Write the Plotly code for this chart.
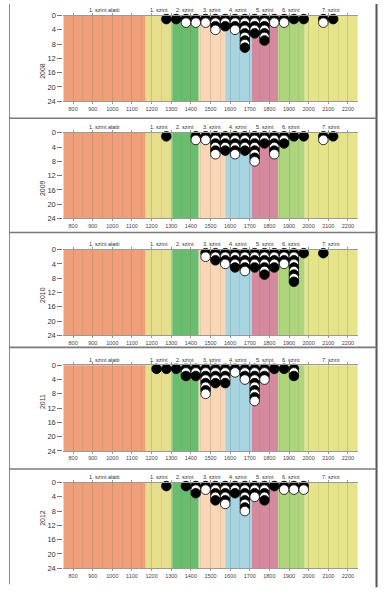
import plotly.graph_objects as go

# ---------------- data ----------------
years = ["2008", "2009", "2010", "2011", "2012"]
bins = [1225, 1275, 1325, 1375, 1425, 1475, 1525, 1575, 1625, 1675,
        1725, 1775, 1825, 1875, 1925, 1975, 2025, 2075, 2125]
counts_2008 = [0, 1, 1, 2, 2, 2, 4, 3, 4, 9, 5, 7, 2, 2, 1, 1, 0, 2, 1]
counts_2009 = [0, 1, 0, 0, 2, 2, 6, 5, 6, 5, 8, 3, 6, 3, 1, 1, 0, 2, 1]
counts_2010 = [0, 0, 0, 0, 0, 2, 3, 4, 5, 6, 5, 7, 5, 4, 9, 1, 0, 1, 0]
counts_2011 = [1, 1, 1, 3, 3, 8, 5, 5, 2, 4, 10, 4, 1, 1, 3, 0, 0, 0, 0]
counts_2012 = [0, 1, 0, 1, 3, 2, 5, 6, 3, 8, 4, 5, 1, 2, 2, 2, 0, 0, 0]
all_counts = [counts_2008, counts_2009, counts_2010, counts_2011, counts_2012]

level_names = ["1. szint alatti", "1. szint", "2. szint", "3. szint",
               "4. szint", "5. szint", "6. szint", "7. szint"]
level_edges = [750, 1170, 1305, 1440, 1575, 1710, 1845, 1980, 2250]
level_colors = ["#EFA07A", "#E6DE8C", "#6ABD6E", "#F9D6B5",
                "#A8D4E2", "#D4899C", "#AED57D", "#E6E48A"]

x_ticks = list(range(800, 2201, 100))
y_ticks = [0, 4, 8, 12, 16, 20, 24]

# ---------------- layout geometry (pixels) ----------------
W, H = 388, 608
plot_left, plot_right = 63.3, 357.7
plot_tops = [11.7, 130.7, 249.3, 366.7, 485.7]
plot_h = 87.0
separators = [116, 232, 348.5, 472]

FONT = "Liberation Sans, Arial, sans-serif"
GRID = "rgba(110,110,60,0.12)"
fig = go.Figure()
shapes = []
annotations = []

for i, (year, counts) in enumerate(zip(years, all_counts)):
    ax = "" if i == 0 else str(i + 1)
    xs, ys, cols = [], [], []
    for b, n in zip(bins, counts):
        for k in range(1, n + 1):
            xs.append(b)
            ys.append(k)
            cols.append("black" if k % 2 == 1 else "white")
    fig.add_trace(go.Scatter(
        x=xs, y=ys, mode="markers",
        marker=dict(size=9.6, color=cols, line=dict(color="black", width=0.8)),
        xaxis="x" + ax, yaxis="y" + ax, showlegend=False, hoverinfo="skip",
        cliponaxis=False,
    ))
    top = plot_tops[i]
    ydom = [1 - (top + plot_h) / H, 1 - top / H]
    fig.update_layout({
        f"xaxis{ax}": dict(
            domain=[plot_left / W, plot_right / W], range=[750, 2250],
            anchor="y" + ax, tickmode="array", tickvals=x_ticks,
            ticktext=[str(v) for v in x_ticks],
            tickfont=dict(size=5.5, color="#444", family=FONT),
            ticks="outside", ticklen=2, tickcolor="#999", tickwidth=0.5,
            showline=True, linecolor="#999", linewidth=0.6, mirror="ticks",
            showgrid=True, gridcolor=GRID, gridwidth=0.6,
            minor=dict(tick0=750, dtick=50, showgrid=True,
                       gridcolor=GRID, gridwidth=0.6),
            zeroline=False, fixedrange=True,
        ),
        f"yaxis{ax}": dict(
            domain=ydom, range=[24, 0], anchor="x" + ax,
            tickmode="array", tickvals=y_ticks,
            tickfont=dict(size=7.5, color="#333", family=FONT),
            ticks="outside", ticklen=5, tickcolor="#777", tickwidth=0.8,
            showgrid=False, zeroline=False, showline=False, fixedrange=True,
        ),
    })
    # level bands
    for j, name in enumerate(level_names):
        x0, x1 = level_edges[j], level_edges[j + 1]
        shapes.append(dict(type="rect", xref="x" + ax, yref=f"y{ax} domain",
                           x0=x0, x1=x1, y0=0, y1=1, fillcolor=level_colors[j],
                           line=dict(width=0), layer="below"))
        annotations.append(dict(text=name, x=(x0 + x1) / 2, xref="x" + ax,
                                y=1, yref=f"y{ax} domain", yanchor="bottom",
                                yshift=0.5, showarrow=False,
                                font=dict(size=5.5, color="#333", family=FONT)))
    # year title
    annotations.append(dict(text=year, x=37 / W, xref="paper",
                            y=1 - (top + plot_h / 2 + 3) / H, yref="paper",
                            textangle=-90, showarrow=False,
                            font=dict(size=7, color="#333", family=FONT)))

# panel frames
shapes.append(dict(type="line", xref="paper", yref="paper",
                   x0=9.5 / W, x1=9.5 / W, y0=1, y1=1 - 589 / H,
                   line=dict(color="#8a8a8a", width=1)))
shapes.append(dict(type="line", xref="paper", yref="paper",
                   x0=376.5 / W, x1=376.5 / W, y0=1, y1=1 - 592 / H,
                   line=dict(color="#555", width=2)))
for s in separators:
    shapes.append(dict(type="line", xref="paper", yref="paper",
                       x0=9 / W, x1=377.5 / W, y0=1 - s / H, y1=1 - s / H,
                       line=dict(color="#7a7a7a", width=1.6)))

fig.update_layout(
    width=W, height=H, margin=dict(l=0, r=0, t=0, b=0),
    paper_bgcolor="white", plot_bgcolor="white",
    shapes=shapes, annotations=annotations,
    font=dict(family=FONT, color="#333"),
)

fig.write_html("out.html", config={"displayModeBar": False},
               post_script="document.body.style.margin='0';document.body.style.overflow='hidden';")
